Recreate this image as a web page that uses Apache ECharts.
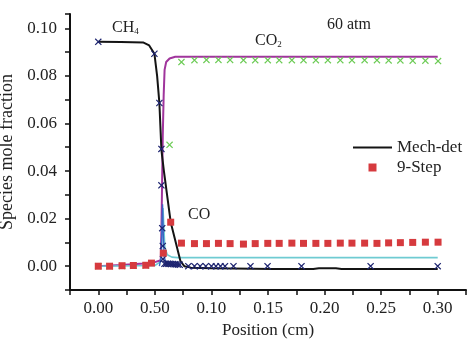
<!DOCTYPE html>
<html>
<head>
<meta charset="utf-8">
<script src="https://cdn.jsdelivr.net/npm/echarts@6/dist/echarts.min.js"></script>
<style>
  html, body { margin: 0; padding: 0; background: #fff; }
  #chart { width: 469px; height: 340px; }
</style>
</head>
<body>
<div id="chart"></div>
<script>
// axis labels as printed in the figure (second one is "0.50" in the original)
const xTickLabels = ['0.00', '0.50', '0.10', '0.15', '0.20', '0.25', '0.30']
const yTickLabels = ['0.00', '0.02', '0.04', '0.06', '0.08', '0.10']

// Mech-det curves [position, mole fraction]
const ch4Det = [
  [0, 0.0943], [0.02, 0.0942], [0.04, 0.0940], [0.045, 0.0928], [0.0496, 0.0893],
  [0.052, 0.080], [0.054, 0.0686], [0.0558, 0.0488], [0.058, 0.040], [0.064, 0.0185],
  [0.0726, 0.0022], [0.076, 0.0], [0.082, -0.0006], [0.10, -0.0009], [0.155, -0.0012],
  [0.19, -0.0012], [0.195, -0.0009], [0.21, -0.0009], [0.215, -0.0012], [0.30, -0.0012]
]
const co2Det = [
  [0, 0.0], [0.02, 0.0005], [0.04, 0.0011], [0.05, 0.0017], [0.0552, 0.0025],
  [0.0558, 0.015], [0.0564, 0.035], [0.057, 0.055], [0.0578, 0.072], [0.0586, 0.0825],
  [0.060, 0.0858], [0.063, 0.0873], [0.068, 0.0880], [0.30, 0.0880]
]
const coDet = [
  [0, 0.0], [0.05, 0.0003], [0.0555, 0.002], [0.0565, 0.015], [0.0572, 0.0245],
  [0.0578, 0.018], [0.0588, 0.008], [0.061, 0.0048], [0.065, 0.0038], [0.07, 0.0036],
  [0.30, 0.0036]
]
const otherDet = [
  [0.054, 0.0], [0.0556, 0.004], [0.0562, 0.016], [0.0568, 0.026], [0.0574, 0.014],
  [0.0582, 0.004], [0.060, 0.0012], [0.065, 0.0008], [0.073, 0.0006]
]

// 9-Step markers
const ch4Step = [
  [0, 0.0943], [0.0496, 0.0893], [0.054, 0.0686], [0.0558, 0.0493], [0.0558, 0.034],
  [0.0565, 0.016], [0.057, 0.0085], [0.0572, 0.003], [0.0585, 0.001], [0.060, 0.001],
  [0.0615, 0.001], [0.063, 0.001], [0.0645, 0.0009], [0.066, 0.0009], [0.0675, 0.0008],
  [0.069, 0.0008], [0.0705, 0.0007], [0.072, 0.0006], [0.0796, 0.0], [0.085, 0.0],
  [0.090, 0.0], [0.095, 0.0], [0.100, 0.0], [0.104, 0.0], [0.108, 0.0], [0.112, 0.0],
  [0.1195, 0.0], [0.1345, 0.0], [0.1496, 0.0], [0.1796, 0.0], [0.2407, 0.0], [0.300, 0.0]
]
const co2Step = [
  [0, 0.0], [0.010, 0.0], [0.021, 0.0001], [0.031, 0.0002], [0.042, 0.0003],
  [0.063, 0.051], [0.0735, 0.0858], [0.085, 0.0866], [0.0956, 0.0867], [0.1062, 0.0867],
  [0.1165, 0.0867], [0.1283, 0.0866], [0.1387, 0.0866], [0.1498, 0.0866], [0.1599, 0.0866],
  [0.1711, 0.0866], [0.1814, 0.0866], [0.1923, 0.0866], [0.2029, 0.0866], [0.2139, 0.0866],
  [0.2242, 0.0866], [0.2354, 0.0866], [0.2463, 0.0866], [0.2566, 0.0865], [0.267, 0.0865],
  [0.2779, 0.0864], [0.2891, 0.0864], [0.3003, 0.0862]
]
const coStep = [
  [0, 0.0], [0.010, 0.0], [0.021, 0.0002], [0.031, 0.0003], [0.042, 0.0004],
  [0.047, 0.0013], [0.0575, 0.0055], [0.064, 0.0185], [0.0735, 0.0097], [0.085, 0.0095],
  [0.0956, 0.0095], [0.1062, 0.0096], [0.1165, 0.0095], [0.1283, 0.0093], [0.1387, 0.0095],
  [0.1498, 0.0096], [0.1599, 0.0096], [0.1711, 0.0097], [0.1814, 0.0096], [0.1923, 0.0096],
  [0.2029, 0.0096], [0.2139, 0.0097], [0.2242, 0.0097], [0.2354, 0.0097], [0.2463, 0.0096],
  [0.2566, 0.0098], [0.267, 0.0099], [0.2779, 0.0100], [0.2891, 0.0101], [0.3003, 0.0101]
]

const serif = 'Liberation Serif'
const crossIcon = 'path://M0,1.2L1.2,0L5,3.8L8.8,0L10,1.2L6.2,5L10,8.8L8.8,10L5,6.2L1.2,10L0,8.8L3.8,5Z'
const boxIcon = 'path://M0,0H10V10H0Z'
const dashIcon = 'path://M0,0H20V1H0Z'

function xLabel(v) {
  const k = Math.round(v * 1000)
  if (k < 0 || k % 50 !== 0) return ''
  return xTickLabels[k / 50] || ''
}
function yLabel(v) {
  const k = Math.round(v * 1000)
  if (k < 0 || k % 20 !== 0) return ''
  return yTickLabels[k / 20] || ''
}

function lineSeries(name, data, color, width) {
  return {
    name: name,
    type: 'line',
    data: data,
    symbol: 'none',
    lineStyle: { color: color, width: width },
    itemStyle: { color: color },
    z: 2
  }
}
function markSeries(name, data, color, symbol, size) {
  return {
    name: name,
    type: 'scatter',
    data: data,
    symbol: symbol,
    symbolSize: size,
    itemStyle: { color: color, opacity: 1 },
    z: 3
  }
}

const chart = echarts.init(document.getElementById('chart'))
chart.setOption({
  animation: false,
  textStyle: { fontFamily: serif },
  grid: { left: 70, right: 3, top: 14, bottom: 50, outerBoundsMode: 'none', containLabel: false },
  legend: {
    orient: 'vertical',
    left: 348,
    top: 134,
    itemWidth: 39,
    itemHeight: 8,
    itemGap: 3,
    textStyle: { fontFamily: serif, fontSize: 17, color: '#222' },
    data: [
      { name: 'Mech-det', icon: dashIcon },
      { name: '9-Step', icon: boxIcon }
    ]
  },
  xAxis: {
    type: 'value',
    min: -0.025,
    max: 0.325,
    interval: 0.025,
    name: 'Position (cm)',
    nameLocation: 'middle',
    nameGap: 32,
    nameTextStyle: { fontFamily: serif, fontSize: 17, color: '#222' },
    axisLine: { onZero: false, lineStyle: { color: '#111', width: 2 } },
    axisTick: { inside: false, length: 5, lineStyle: { color: '#111', width: 1.5 } },
    axisLabel: { formatter: xLabel, margin: 10, fontFamily: serif, fontSize: 17, color: '#222' },
    splitLine: { show: false }
  },
  yAxis: {
    type: 'value',
    min: -0.01,
    max: 0.106,
    interval: 0.01,
    name: 'Species mole fraction',
    nameLocation: 'middle',
    nameGap: 50,
    nameTextStyle: { fontFamily: serif, fontSize: 18, color: '#222' },
    axisLine: { show: true, onZero: false, lineStyle: { color: '#111', width: 2 } },
    axisTick: { show: true, inside: false, length: 5, lineStyle: { color: '#111', width: 1.5 } },
    axisLabel: { formatter: yLabel, margin: 13, fontFamily: serif, fontSize: 17, color: '#222' },
    splitLine: { show: false }
  },
  graphic: [
    { type: 'text', left: 112, top: 20,
      style: { text: 'CH{s|4}', fontFamily: serif, fontSize: 16, fill: '#222',
        rich: { s: { fontFamily: serif, fontSize: 9, padding: [8, 0, 0, 0] } } } },
    { type: 'text', left: 255, top: 33,
      style: { text: 'CO{s|2}', fontFamily: serif, fontSize: 16, fill: '#222',
        rich: { s: { fontFamily: serif, fontSize: 9, padding: [8, 0, 0, 0] } } } },
    { type: 'text', left: 327, top: 17,
      style: { text: '60 atm', fontFamily: serif, fontSize: 16, fill: '#222' } },
    { type: 'text', left: 188, top: 207,
      style: { text: 'CO', fontFamily: serif, fontSize: 16, fill: '#222' } }
  ],
  series: [
    lineSeries('CO2 det', co2Det, '#a0359c', 2),
    lineSeries('CO det', coDet, '#6fcbd2', 1.6),
    lineSeries('other det', otherDet, '#3b63c4', 1.4),
    lineSeries('Mech-det', ch4Det, '#141414', 2),
    markSeries('CH4 step', ch4Step, '#1d2470', crossIcon, 7),
    markSeries('CO2 step', co2Step, '#6ccb55', crossIcon, 7),
    markSeries('9-Step', coStep, '#d63a3e', boxIcon, 7)
  ]
})
</script>
</body>
</html>
